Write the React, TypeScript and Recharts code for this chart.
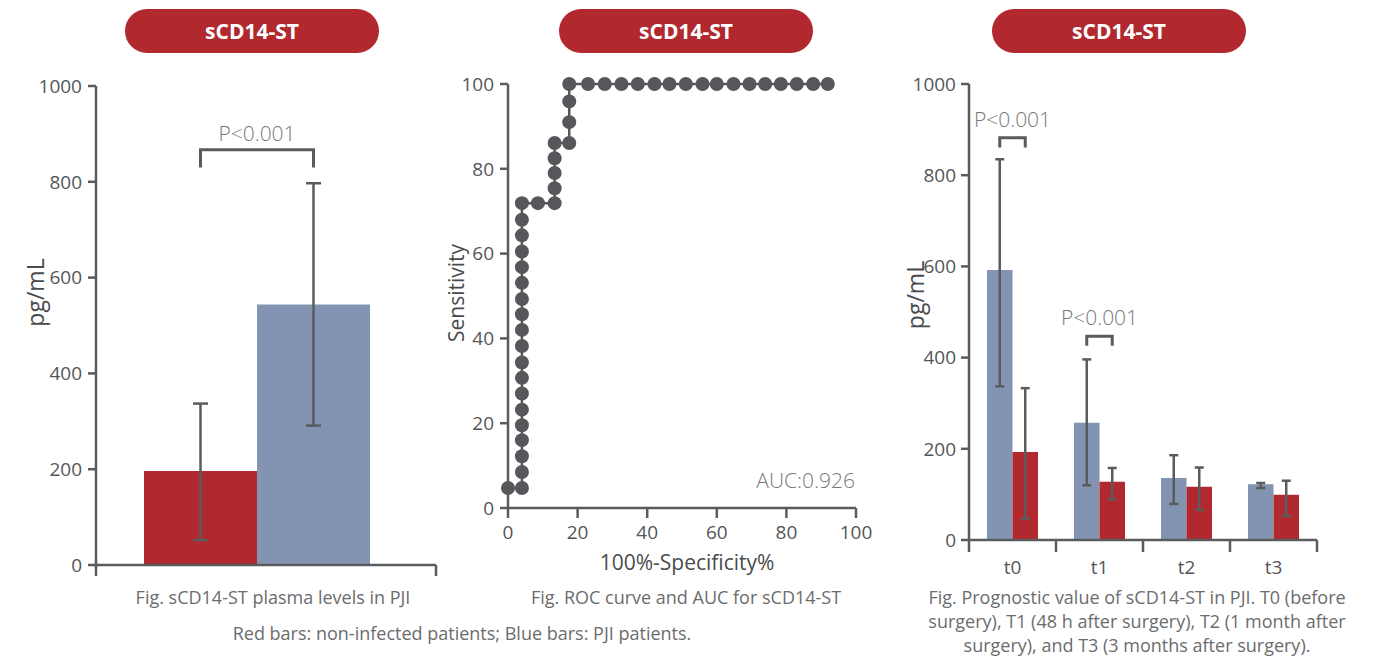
import React from "react";
import { BarChart, Bar, XAxis, YAxis, ErrorBar, LabelList, LineChart, Line } from "recharts";

const RED = "#b1292f";
const BLUE = "#8393b2";
const AXIS = "#5a5b5d";
const DOT = "#55575a";
const FONT = "'Open Sans', 'Noto Sans', sans-serif";

// plasma levels (left)
const levelGroups = ["sCD14-ST"];
const nonInfected = [196];
const nonInfectedErr = [[144, 141]];
const pjiLevel = [544];
const pjiLevelErr = [[253, 253]];
const levelBracketTop = [867];
const levelBracketLeg = [830];
const levelTicks = [0, 200, 400, 600, 800, 1000];

// ROC curve (middle)
const rocX = [0, 4, 4, 4, 4, 4, 4, 4, 4, 4, 4, 4, 4, 4, 4, 4, 4, 4, 4, 4, 8.6, 13.4, 13.4, 13.4, 13.4, 13.4, 17.6, 17.6, 17.6, 17.6,
  23.0, 27.8, 32.6, 37.3, 42.1, 46.4, 51.1, 55.9, 60.0, 64.8, 69.4, 73.9, 78.4, 83.0, 87.7, 91.9];
const rocY = [4.7, 4.7, 8.5, 12.2, 16.0, 19.5, 23.2, 27.0, 30.7, 34.3, 38.2, 42.0, 45.7, 49.3, 53.1, 56.8, 60.5, 64.3, 68.0, 71.9,
  71.9, 71.9, 75.4, 79.0, 82.5, 86.1, 86.1, 91.0, 95.9, 100,
  100, 100, 100, 100, 100, 100, 100, 100, 100, 100, 100, 100, 100, 100, 100, 100];
const rocTicks = [0, 20, 40, 60, 80, 100];

// prognostic value (right)
const timepoints = ["t0", "t1", "t2", "t3"];
const progPji = [592, 257, 136, 122];
const progPjiErr = [[255, 243], [137, 139], [57, 50], [8, 3]];
const progNon = [193, 128, 117, 99];
const progNonErr = [[146, 140], [39, 30], [51, 42], [46, 31]];
const progBracketTop = [882, 447, null, null];
const progBracketLeg = [861, 426, null, null];
const progTicks = [0, 200, 400, 600, 800, 1000];

const axisLine = { stroke: AXIS, strokeWidth: 2.5 };
const tickStyle = { fill: "#555658", fontSize: 19, fontFamily: FONT };
const LEVEL_PAD = 18; // empty room right of the bar pair

const yTitle = (text: string, dx: number, dy: number, size: number) => (props: any) => {
  const vb = props.viewBox;
  const cx = vb.x + dx;
  const cy = vb.y + vb.height / 2 + dy;
  return (
    <text x={cx} y={cy} transform={`rotate(-90 ${cx} ${cy})`} textAnchor="middle" dominantBaseline="central"
      fill="#4a4b4d" fontSize={size} fontFamily={FONT}>
      {text}
    </text>
  );
};

const xTitle = (text: string, dx: number, dy: number, size: number) => (props: any) => {
  const vb = props.viewBox;
  return (
    <text x={vb.x + vb.width / 2 + dx} y={vb.y + dy} textAnchor="middle" dominantBaseline="central"
      fill="#4a4b4d" fontSize={size} fontFamily={FONT}>
      {text}
    </text>
  );
};

// bracket between the two bars of a group, drawn from the second bar's label
const bracket = (tops: (number | null)[], legs: (number | null)[], gap: number) => (props: any) => {
  const vb = props.viewBox ?? props;
  const i = props.index;
  const top = tops[i];
  const leg = legs[i];
  if (top == null || leg == null) return null;
  const k = vb.height / props.value;
  const zero = vb.y + vb.height;
  const yt = zero - top * k;
  const yl = zero - leg * k;
  const x2 = vb.x + vb.width / 2;
  const x1 = x2 - vb.width;
  return (
    <g>
      <path d={`M${x1},${yl} L${x1},${yt} L${x2},${yt} L${x2},${yl}`} fill="none" stroke={AXIS} strokeWidth={3} />
      <text x={(x1 + x2) / 2} y={yt - gap} textAnchor="middle" dominantBaseline="central" fill="#77787a"
        fontSize={21} fontWeight={300} fontFamily={FONT}>
        P&lt;0.001
      </text>
    </g>
  );
};

function EndTicks(props: any) {
  const { x, y, payload } = props;
  const off = payload.offset ?? 0;
  return (
    <g>
      <line x1={x - off} y1={y} x2={x - off} y2={y + 11} stroke={AXIS} strokeWidth={2.5} />
      <line x1={x + off + LEVEL_PAD} y1={y} x2={x + off + LEVEL_PAD} y2={y + 11} stroke={AXIS} strokeWidth={2.5} />
    </g>
  );
}

function CatTick(props: any) {
  const { x, y, payload, index, visibleTicksCount } = props;
  const off = payload.offset ?? 0;
  return (
    <g>
      <line x1={x - off} y1={y} x2={x - off} y2={y + 12} stroke={AXIS} strokeWidth={2.5} />
      {index === visibleTicksCount - 1 && (
        <line x1={x + off} y1={y} x2={x + off} y2={y + 12} stroke={AXIS} strokeWidth={2.5} />
      )}
      <text x={x} y={y + 27} textAnchor="middle" dominantBaseline="central" fill="#555658" fontSize={19} fontFamily={FONT}>
        {payload.value}
      </text>
    </g>
  );
}

function LevelsChart() {
  const data = levelGroups.map((g, i) => ({
    g, non: nonInfected[i], nonErr: nonInfectedErr[i], pji: pjiLevel[i], pjiErr: pjiLevelErr[i],
  }));
  return (
    <BarChart width={460} height={600} data={data} margin={{ top: 86, right: 24, bottom: 0, left: 0 }} barGap={0} barCategoryGap={0}>
      <XAxis dataKey="g" height={35} padding={{ left: 0, right: LEVEL_PAD }} axisLine={axisLine} tickLine={false}
        tickSize={0} tickMargin={0} interval={0} tick={<EndTicks />} />
      <YAxis width={96} domain={[0, 1000]} ticks={levelTicks} interval={0} axisLine={axisLine} tickLine={axisLine}
        tickSize={8} tickMargin={6} tick={tickStyle} label={{ content: yTitle("pg/mL", 35, -33, 23) }} />
      <Bar dataKey="non" fill={RED} barSize={113} isAnimationActive={false}>
        <ErrorBar dataKey="nonErr" width={7.5} stroke={AXIS} strokeWidth={2.5} direction="y" />
      </Bar>
      <Bar dataKey="pji" fill={BLUE} barSize={113} isAnimationActive={false}>
        <ErrorBar dataKey="pjiErr" width={7.5} stroke={AXIS} strokeWidth={2.5} direction="y" />
        <LabelList dataKey="pji" content={bracket(levelBracketTop, levelBracketLeg, 17)} />
      </Bar>
    </BarChart>
  );
}

function RocChart() {
  const data = rocX.map((x, i) => ({ x, y: rocY[i] }));
  return (
    <LineChart width={440} height={600} data={data} margin={{ top: 84, right: 24, bottom: 0, left: 0 }}>
      <XAxis type="number" dataKey="x" domain={[0, 100]} ticks={rocTicks} interval={0} height={92}
        axisLine={axisLine} tickLine={axisLine} tickSize={10} tickMargin={8} tick={tickStyle}
        label={{ content: xTitle("100%-Specificity%", 5, 54, 21) }} />
      <YAxis type="number" domain={[0, 100]} ticks={rocTicks} interval={0} width={68}
        axisLine={axisLine} tickLine={axisLine} tickSize={8} tickMargin={6} tick={tickStyle}
        label={{ content: yTitle("Sensitivity", 16, -3, 21) }} />
      <Line type="linear" dataKey="y" stroke={DOT} strokeWidth={2.5} dot={{ r: 7, fill: DOT, stroke: "none" }}
        activeDot={false} isAnimationActive={false} />
    </LineChart>
  );
}

function PrognosticChart() {
  const data = timepoints.map((t, i) => ({
    t, pji: progPji[i], pjiErr: progPjiErr[i], non: progNon[i], nonErr: progNonErr[i],
  }));
  return (
    <BarChart width={479} height={600} data={data} margin={{ top: 84, right: 62, bottom: 0, left: 0 }} barGap={0}>
      <XAxis dataKey="t" height={60} axisLine={axisLine} tickLine={false} tickSize={0} tickMargin={0} interval={0}
        tick={(p: any) => <CatTick {...p} />} />
      <YAxis width={69} domain={[0, 1000]} ticks={progTicks} interval={0} axisLine={axisLine} tickLine={axisLine}
        tickSize={8} tickMargin={5} tick={tickStyle} label={{ content: yTitle("pg/mL", 15, -17, 23) }} />
      <Bar dataKey="pji" fill={BLUE} barSize={25.5} isAnimationActive={false}>
        <ErrorBar dataKey="pjiErr" width={4.5} stroke={AXIS} strokeWidth={2.5} direction="y" />
      </Bar>
      <Bar dataKey="non" fill={RED} barSize={25.5} isAnimationActive={false}>
        <ErrorBar dataKey="nonErr" width={4.5} stroke={AXIS} strokeWidth={2.5} direction="y" />
        <LabelList dataKey="non" content={bracket(progBracketTop, progBracketLeg, 19)} />
      </Bar>
    </BarChart>
  );
}

function Pill({ left }: { left: number }) {
  return (
    <div style={{
      position: "absolute", left, top: 9, width: 254, height: 44, borderRadius: 22, background: RED,
      color: "#fff", fontWeight: 700, fontSize: 21, lineHeight: "44px", textAlign: "center", fontFamily: FONT,
    }}>
      sCD14-ST
    </div>
  );
}

function Caption({ cx, top, width, children }: { cx: number; top: number; width: number; children: React.ReactNode }) {
  return (
    <div style={{
      position: "absolute", left: cx - width / 2, top, width, textAlign: "center", color: "#6b6c6e",
      fontSize: 18, lineHeight: "24px", fontFamily: FONT, whiteSpace: "nowrap",
    }}>
      {children}
    </div>
  );
}

export default function App() {
  return (
    <div style={{ position: "absolute", left: 0, top: 0, width: 1379, height: 659, background: "#fff", overflow: "hidden", fontFamily: FONT }}>
      <div style={{ position: "absolute", left: 0, top: 0 }}><LevelsChart /></div>
      <div style={{ position: "absolute", left: 440, top: 0 }}><RocChart /></div>
      <div style={{ position: "absolute", left: 900, top: 0 }}><PrognosticChart /></div>
      <Pill left={125} />
      <Pill left={559} />
      <Pill left={992} />
      <div style={{
        position: "absolute", left: 700, top: 467, width: 155, textAlign: "right", color: "#77787a",
        fontSize: 21, fontWeight: 300, lineHeight: "26px", fontFamily: FONT,
      }}>
        AUC:0.926
      </div>
      <Caption cx={273} top={585} width={420}>Fig. sCD14-ST plasma levels in PJI</Caption>
      <Caption cx={686} top={585} width={420}>Fig. ROC curve and AUC for sCD14-ST</Caption>
      <Caption cx={462} top={621} width={600}>Red bars: non-infected patients; Blue bars: PJI patients.</Caption>
      <Caption cx={1137} top={585} width={480}>
        Fig. Prognostic value of sCD14-ST in PJI. T0 (before<br />
        surgery), T1 (48 h after surgery), T2 (1 month after<br />
        surgery), and T3 (3 months after surgery).
      </Caption>
    </div>
  );
}
